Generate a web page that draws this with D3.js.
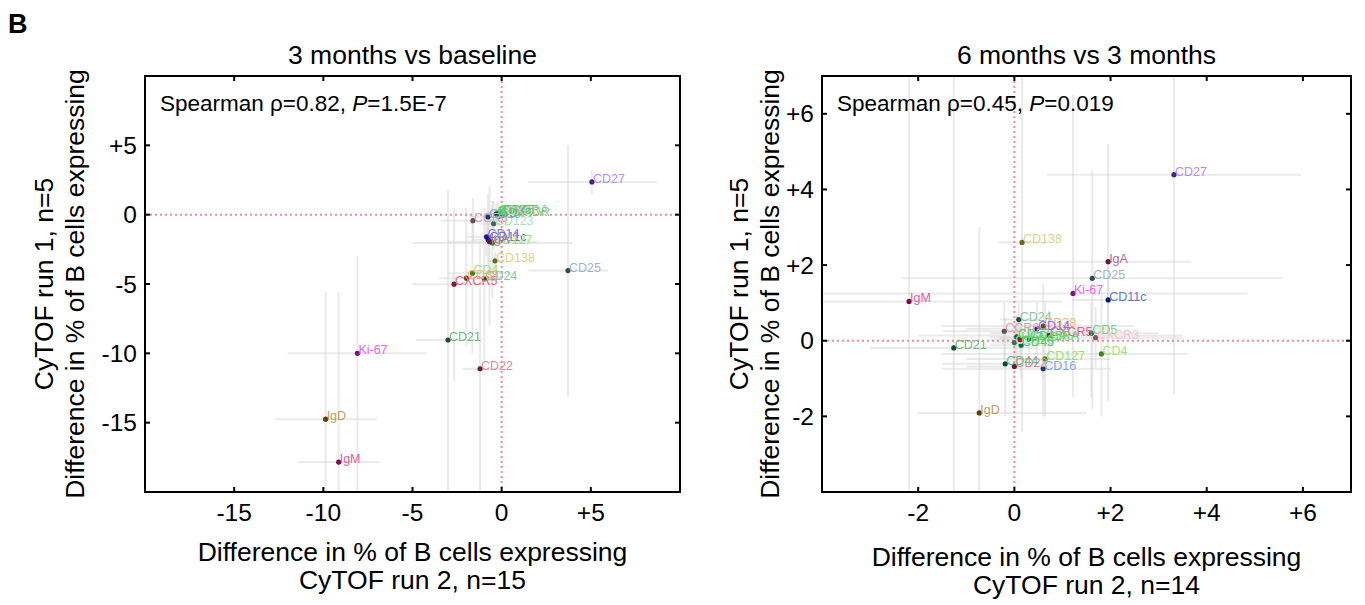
<html>
<head>
<script src="https://d3js.org/d3.v7.min.js"></script>
<style>
  body { margin: 0; background: #fff; }
  text { font-family: "Liberation Sans", Arial, sans-serif; }
  .frame { fill: none; stroke: #000; stroke-width: 2px; }
  .zero { stroke: #f08c8c; stroke-width: 2px; stroke-dasharray: 2,3; }
  .err { stroke: #d6d6d6; stroke-opacity: 0.5; stroke-width: 2px; }
</style>
</head>
<body>
<svg id="fig" width="1365" height="605"></svg>
<script>
// markers (same order in every array below)
const markers = ["CD27","CD25","Ki-67","IgD","IgM","CD21","CD22","CD138","CXCR5","CD4","CD24","CD38","CD14",
                 "CD11c","CD127","IgA","CD123","CCR6","CD16","CD45RA","HLA-DR","CD5","CD57","CD45","CD44","CXCR3"];
const labelColors = ["#b98cf5","#9fb3bf","#f25cf2","#c49a5c","#e8589a","#6fb67f","#d98a99","#d6d68a","#e5637f","#a6e27a",
                     "#86c4a8","#f2b27a","#9b63f2","#5b79d6","#97e26a","#b46a95","#a5e6c6","#d3a3ad","#86a6e3","#57d26a",
                     "#62d873","#74d688","#62cf74","#56c468","#68b887","#f3c4d2"];
const dotColors = ["#4e2080","#2f4a52","#7f0f86","#5c3c12","#7c0f42","#1b4d2c","#5e2232","#6a6a22","#7d1b40","#4b7d22",
                   "#1d4d41","#6e4c1c","#3d0f8c","#0d1d5e","#4b8b22","#5c1b3e","#3b6b52","#6b4a52","#1d3c6d","#127032",
                   "#b01236","#1c6d3c","#1b5c2c","#0c6d2c","#0d4c2c","#7b5a62"];

// 3 months vs baseline: x = CyTOF run 2, y = CyTOF run 1
const run2_3m    = [5.06, 3.72, -8.09, -9.87, -9.14, -3.01, -1.21, -0.37, -2.67, -1.64, -0.97, -1.98, -0.85, -0.75, -0.52, -0.68, -0.45, -1.61, -0.77, -0.2, 0.04, -0.1, -0.3, 0.0, -0.15, 0.2];
const run2_3m_lo = [1.5, 1.5, -12.0, -12.7, -11.45, -4.8, -2.2, -0.8, -5.0, -3.0, -2.0, -3.5, -2.0, -1.6, -5.0, -3.0, -1.2, -3.4, -1.8, -0.8, -0.4, -0.6, -1.0, -0.3, -0.5, -0.5];
const run2_3m_hi = [8.7, 5.95, -4.2, -7.0, -6.84, -1.4, 0.0, 0.2, -0.4, 0.5, 0.0, 0.0, 0.3, 0.2, 4.0, 2.0, 0.3, 0.3, 0.3, 0.5, 0.6, 0.5, 0.4, 0.3, 0.3, 1.0];
const run1_3m    = [2.36, -4.03, -10.0, -14.75, -17.84, -9.04, -11.11, -3.33, -5.01, -4.22, -4.63, -4.58, -1.6, -1.8, -2.05, -1.95, -0.65, -0.43, -0.17, 0.12, 0.0, 0.15, 0.05, 0.1, -0.1, 0.05];
const run1_3m_lo = [1.5, -13.1, -20.0, -20.0, -20.0, -20.0, -20.0, -4.0, -12.0, -10.0, -10.5, -9.5, -3.0, -4.0, -6.0, -8.0, -2.5, -2.0, -1.5, -0.8, -0.6, -0.5, -0.7, -0.3, -0.6, -0.5];
const run1_3m_hi = [3.2, 5.0, -3.0, -5.6, -5.6, 1.8, -2.0, -2.7, 0.5, 0.0, 0.5, 0.5, -0.5, 0.3, 1.0, 2.0, 1.0, 1.2, 1.5, 1.0, 0.8, 0.7, 0.8, 0.5, 0.4, 0.6];

// 6 months vs 3 months
const run2_6m    = [3.32, 1.62, 1.22, -0.73, -2.19, -1.26, 0.0, 0.16, 0.72, 1.81, 0.09, 0.6, 0.47, 1.95, 0.64, 1.95, 0.0, -0.21, 0.6, 0.3, 0.12, 1.6, 0.05, 0.14, -0.19, 1.69];
const run2_6m_lo = [0.68, -2.33, -4.0, -2.0, -4.0, -3.0, -1.0, -0.33, -2.0, -1.5, -0.3, -1.5, -1.0, 1.2, -1.0, 0.17, -0.4, -1.5, -1.5, -0.3, -0.5, -0.5, -0.5, -0.5, -1.5, -0.3];
const run2_6m_hi = [5.96, 5.56, 4.85, 1.5, 1.0, 0.5, 1.0, 0.65, 3.5, 3.6, 0.5, 2.5, 2.0, 2.7, 2.0, 3.68, 0.1, 1.5, 2.0, 1.0, 0.8, 3.0, 0.6, 0.8, 1.0, 3.5];
const run1_6m    = [4.39, 1.65, 1.25, -1.91, 1.04, -0.19, -0.68, 2.6, 0.14, -0.35, 0.56, 0.39, 0.32, 1.08, -0.48, 2.09, -0.05, 0.25, -0.74, 0.05, 0.03, 0.2, 0.1, -0.12, -0.61, 0.08];
const run1_6m_lo = [-1.4, -1.8, -1.5, -4.0, -4.0, -4.0, -1.8, -2.4, -0.5, -2.0, 0.0, -1.0, -0.4, 0.2, -2.0, -1.6, -0.5, -0.5, -2.0, -0.5, -0.5, -1.5, -0.5, -1.0, -2.0, -0.7];
const run1_6m_hi = [7.0, 4.5, 6.5, 3.0, 7.0, 7.0, 0.5, 7.0, 0.8, 1.3, 1.0, 1.5, 1.0, 2.0, 1.0, 5.2, 0.3, 1.0, 0.5, 0.5, 0.5, 1.0, 0.7, 0.6, 0.6, 0.9];

const svg = d3.select("#fig");
const fmt = d => d > 0 ? "+" + d : "" + d;

svg.append("text").attr("x", 8).attr("y", 33)
  .attr("font-size", 27).attr("font-weight", "bold").text("B");

function panel(o) {
  const x = d3.scaleLinear().domain(o.xDomain).range([o.left, o.right]);
  const y = d3.scaleLinear().domain(o.yDomain).range([o.bottom, o.top]);
  const g = svg.append("g");
  const pts = markers.map((m, i) => ({
    name: m, x: o.xs[i], xlo: o.xlo[i], xhi: o.xhi[i],
    y: o.ys[i], ylo: o.ylo[i], yhi: o.yhi[i], c: labelColors[i], dc: dotColors[i]
  }));

  // error bars
  g.selectAll("line.h").data(pts).enter().append("line").attr("class", "err")
    .attr("x1", d => x(d.xlo)).attr("x2", d => x(d.xhi))
    .attr("y1", d => y(d.y)).attr("y2", d => y(d.y));
  g.selectAll("line.v").data(pts).enter().append("line").attr("class", "err")
    .attr("x1", d => x(d.x)).attr("x2", d => x(d.x))
    .attr("y1", d => y(d.ylo)).attr("y2", d => y(d.yhi));

  // zero lines
  g.append("line").attr("class", "zero")
    .attr("x1", x(0)).attr("x2", x(0)).attr("y1", o.top).attr("y2", o.bottom);
  g.append("line").attr("class", "zero")
    .attr("x1", o.left).attr("x2", o.right).attr("y1", y(0)).attr("y2", y(0));

  g.selectAll("circle").data(pts).enter().append("circle")
    .attr("cx", d => x(d.x)).attr("cy", d => y(d.y)).attr("r", 2.6)
    .attr("fill", d => d.dc);
  g.selectAll("text.lab").data(pts).enter().append("text").attr("class", "lab")
    .attr("x", d => x(d.x) + 1).attr("y", d => y(d.y) + 1)
    .attr("font-size", 12.5).attr("fill", d => d.c).text(d => d.name);

  // frame + inward ticks
  g.append("rect").attr("class", "frame")
    .attr("x", o.left).attr("y", o.top)
    .attr("width", o.right - o.left).attr("height", o.bottom - o.top);
  o.xTicks.forEach(t => {
    g.append("line").attr("stroke", "#000").attr("stroke-width", 2)
      .attr("x1", x(t)).attr("x2", x(t)).attr("y1", o.bottom).attr("y2", o.bottom - 5);
    g.append("line").attr("stroke", "#000").attr("stroke-width", 2)
      .attr("x1", x(t)).attr("x2", x(t)).attr("y1", o.top).attr("y2", o.top + 5);
    g.append("text").attr("x", x(t)).attr("y", o.bottom + 29)
      .attr("text-anchor", "middle").attr("font-size", 24.5).text(fmt(t));
  });
  o.yTicks.forEach(t => {
    g.append("line").attr("stroke", "#000").attr("stroke-width", 2)
      .attr("x1", o.left).attr("x2", o.left + 5).attr("y1", y(t)).attr("y2", y(t));
    g.append("line").attr("stroke", "#000").attr("stroke-width", 2)
      .attr("x1", o.right).attr("x2", o.right - 5).attr("y1", y(t)).attr("y2", y(t));
    g.append("text").attr("x", o.left - 8).attr("y", y(t) + 8.5)
      .attr("text-anchor", "end").attr("font-size", 24.5).text(fmt(t));
  });

  const cx = (o.left + o.right) / 2, cy = (o.top + o.bottom) / 2;
  g.append("text").attr("x", cx).attr("y", 64).attr("text-anchor", "middle")
    .attr("font-size", 26.5).text(o.title);

  const sp = g.append("text").attr("x", o.left + 15).attr("y", 111).attr("font-size", 22.5);
  sp.append("tspan").text("Spearman \u03c1=" + o.rho + ", ");
  sp.append("tspan").attr("font-style", "italic").text("P");
  sp.append("tspan").text("=" + o.p);

  g.append("text").attr("x", cx).attr("y", o.xt1).attr("text-anchor", "middle")
    .attr("font-size", 26.5).text("Difference in % of B cells expressing");
  g.append("text").attr("x", cx).attr("y", o.xt1 + 28).attr("text-anchor", "middle")
    .attr("font-size", 26.5).text(o.xLabel2);
  g.append("text").attr("transform", `translate(${o.yt1},${cy}) rotate(-90)`)
    .attr("text-anchor", "middle").attr("font-size", 26.5).text("Difference in % of B cells expressing");
  g.append("text").attr("transform", `translate(${o.yt1 - 31},${cy}) rotate(-90)`)
    .attr("text-anchor", "middle").attr("font-size", 26.5).text(o.yLabel2);
}

panel({
  left: 145, right: 680, top: 76, bottom: 492,
  xDomain: [-20, 10], yDomain: [-20, 10],
  xTicks: [-15, -10, -5, 0, 5], yTicks: [5, 0, -5, -10, -15],
  xs: run2_3m, xlo: run2_3m_lo, xhi: run2_3m_hi,
  ys: run1_3m, ylo: run1_3m_lo, yhi: run1_3m_hi,
  title: "3 months vs baseline", rho: "0.82", p: "1.5E-7",
  xLabel2: "CyTOF run 2, n=15", yLabel2: "CyTOF run 1, n=5",
  xt1: 561, yt1: 84
});

panel({
  left: 822, right: 1351, top: 76, bottom: 492,
  xDomain: [-4, 7], yDomain: [-4, 7],
  xTicks: [-2, 0, 2, 4, 6], yTicks: [6, 4, 2, 0, -2],
  xs: run2_6m, xlo: run2_6m_lo, xhi: run2_6m_hi,
  ys: run1_6m, ylo: run1_6m_lo, yhi: run1_6m_hi,
  title: "6 months vs 3 months", rho: "0.45", p: "0.019",
  xLabel2: "CyTOF run 2, n=14", yLabel2: "CyTOF run 1, n=5",
  xt1: 566, yt1: 779
});
</script>
</body>
</html>
